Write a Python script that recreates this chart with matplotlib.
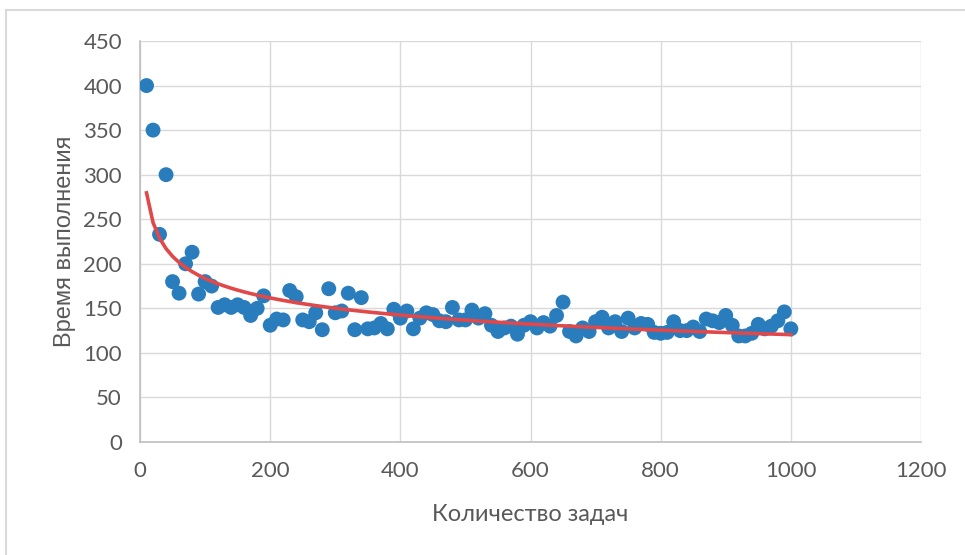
import numpy as np
import matplotlib.pyplot as plt
from matplotlib.lines import Line2D

# данные: количество задач и время выполнения
tasks = np.arange(10, 1001, 10)
times = [400, 350, 233, 300, 180, 167, 200, 213, 166, 180,
         175, 151, 154, 151, 154, 151, 142, 150, 164, 131,
         138, 137, 170, 163, 137, 135, 145, 126, 172, 145,
         147, 167, 126, 162, 127, 128, 133, 127, 149, 139,
         147, 127, 139, 145, 143, 136, 135, 151, 137, 137,
         148, 139, 144, 131, 124, 128, 130, 121, 131, 135,
         128, 134, 130, 142, 157, 124, 119, 128, 124, 135,
         140, 128, 135, 124, 139, 128, 133, 132, 123, 122,
         123, 135, 125, 125, 129, 124, 138, 136, 134, 142,
         131, 119, 119, 122, 132, 127, 130, 136, 146, 127]
x_ticks = [0, 200, 400, 600, 800, 1000, 1200]
y_ticks = [0, 50, 100, 150, 200, 250, 300, 350, 400, 450]

# степенная линия тренда, как в Excel
b, log_a = np.polyfit(np.log(tasks), np.log(times), 1)
trend = np.exp(log_a) * tasks ** b

fig = plt.figure(figsize=(9.65, 5.55), dpi=100)
ax = fig.add_axes([0.1451, 0.2036, 0.8093, 0.7225])

ax.scatter(tasks, times, s=115, color='#2a7dbd', zorder=3, edgecolors='none')
ax.plot(tasks, trend, color='#e0484a', lw=2.6, zorder=4)

ax.set_xlim(0, 1200)
ax.set_ylim(0, 450)
ax.set_xticks(x_ticks)
ax.set_yticks(y_ticks)
ax.grid(True, color='#d9d9d9', lw=1.0, zorder=0)
for side in ['top', 'right']:
    ax.spines[side].set_visible(False)
for side in ['left', 'bottom']:
    ax.spines[side].set_color('#bfbfbf')
    ax.spines[side].set_linewidth(1.2)
ax.tick_params(length=0, labelsize=16, colors='#595959', pad=13)
ax.tick_params(axis='x', pad=14)
for lbl in ax.get_xticklabels() + ax.get_yticklabels():
    lbl.set_family(['Lato', 'DejaVu Sans'])

ax.set_xlabel('Количество задач', fontsize=17, color='#595959',
              family=['Lato', 'DejaVu Sans'], labelpad=16)
ax.set_ylabel('Время выполнения', fontsize=17, color='#595959',
              family=['Liberation Sans', 'DejaVu Sans'], labelpad=5)

# рамка области диаграммы
fig.add_artist(Line2D([6 / 965, 6 / 965], [0, 1 - 10 / 555], color='#d9d9d9', lw=1.5))
fig.add_artist(Line2D([6 / 965, 1], [1 - 10 / 555, 1 - 10 / 555], color='#d9d9d9', lw=1.5))

fig.savefig('out.png', dpi=100)
